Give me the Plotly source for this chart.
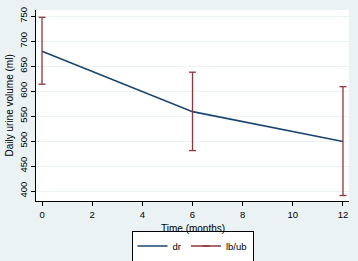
import plotly.graph_objects as go

months = [0, 6, 12]
dr = [680, 559, 499]
lb = [614, 481, 391]
ub = [748, 638, 609]

navy = "#1A476F"
maroon = "#90353B"
bg = "#EAF2F3"

ex, ey = [], []
for m, lo, hi in zip(months, lb, ub):
    ex += [m, m, None]
    ey += [lo, hi, None]

fig = go.Figure()
fig.add_trace(go.Scatter(x=months, y=dr, mode="lines", name="dr",
                         line=dict(color=navy, width=1.6)))
fig.add_trace(go.Scatter(x=ex, y=ey, mode="lines+markers", name="lb/ub",
                         line=dict(color=maroon, width=1.3),
                         marker=dict(symbol="line-ew-open", size=5,
                                     line=dict(color=maroon, width=1.3))))

font = dict(family="Liberation Sans, Arial", size=9.5, color="#000000")
fig.update_layout(
    width=358, height=261,
    margin=dict(l=36, r=9, t=10, b=60, autoexpand=False),
    paper_bgcolor=bg, plot_bgcolor="white",
    font=font,
    showlegend=True,
    legend=dict(orientation="h", x=0.5, xanchor="center",
                yref="container", y=1 - 246 / 261, yanchor="middle",
                bgcolor="white", bordercolor="#000000", borderwidth=1,
                font=dict(size=9.5), itemwidth=30, tracegroupgap=0),
    xaxis=dict(range=[-0.24, 12.24], tickvals=[0, 2, 4, 6, 8, 10, 12],
               showgrid=False, zeroline=False, showline=True, linecolor="#000000",
               linewidth=1, ticks="outside", ticklen=4, tickcolor="#000000",
               ticklabelstandoff=1,
               tickfont=dict(size=9.5), automargin=False),
    yaxis=dict(range=[380, 762.6], tickvals=[400, 450, 500, 550, 600, 650, 700, 750],
               tickangle=-90, showgrid=True, gridcolor=bg, gridwidth=1,
               zeroline=False, showline=True, linecolor="#000000", linewidth=1,
               ticks="outside", ticklen=4, tickcolor="#000000",
               tickfont=dict(size=9.5), automargin=False),
    annotations=[
        dict(text="Time (months)", xref="paper", yref="paper", x=0.5, y=(201 - 228) / 191,
             xanchor="center", yanchor="middle", showarrow=False, font=dict(size=10)),
        dict(text="Daily urine volume (ml)", xref="paper", yref="paper",
             x=(9 - 36) / 313, y=0.5, xanchor="center", yanchor="middle",
             textangle=-90, showarrow=False, font=dict(size=10)),
    ],
)
fig.write_html("out.html", config={"displayModeBar": False},
               post_script="document.body.style.margin='0';document.body.style.background='%s';" % bg)
